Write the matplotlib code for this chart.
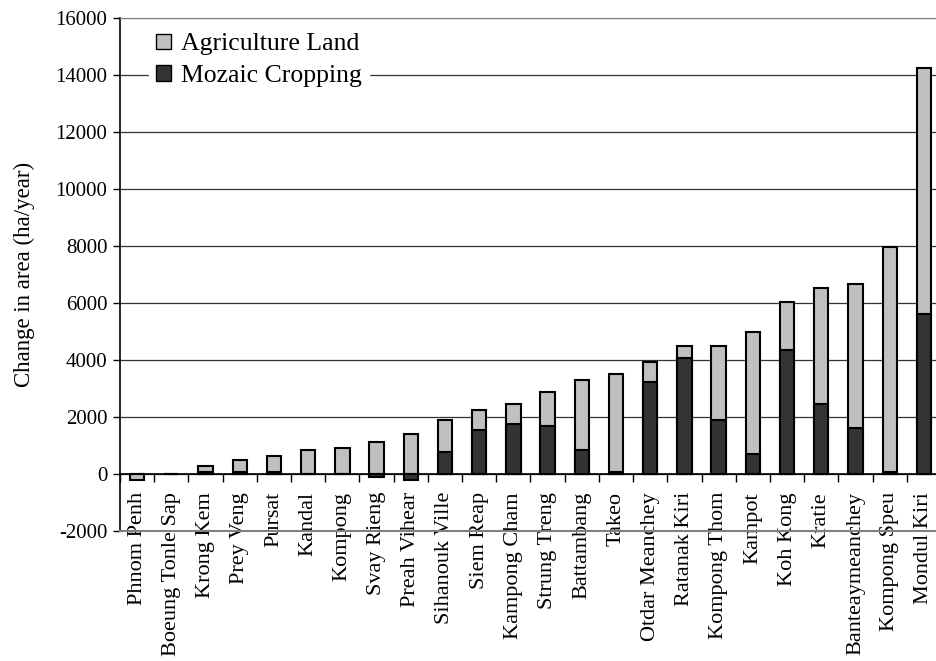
import numpy as np
import matplotlib
matplotlib.use('Agg')
import matplotlib.pyplot as plt
from matplotlib.patches import Patch

plt.rcParams['font.family'] = ['Liberation Serif', 'DejaVu Serif']
plt.rcParams['axes.unicode_minus'] = False

provinces = ['Phnom Penh', 'Boeung Tonle Sap', 'Krong Kem', 'Prey Veng', 'Pursat',
             'Kandal', 'Kompong', 'Svay Rieng', 'Preah Vihear', 'Sihanouk Ville',
             'Siem Reap', 'Kampong Cham', 'Strung Treng', 'Battambang', 'Takeo',
             'Otdar Meanchey', 'Ratanak Kiri', 'Kompong Thom', 'Kampot', 'Koh Kong',
             'Kratie', 'Banteaymeanchey', 'Kompong Speu', 'Mondul Kiri']
agriculture = [-210, 0, 280, 490, 630, 840, 920, 1120, 1410, 1890,
               2250, 2460, 2890, 3300, 3510, 3930, 4490, 4490, 4980, 6050,
               6530, 6680, 7960, 14250]
mozaic = [0, 0, 60, 60, 70, 0, 0, -90, -210, 780,
          1540, 1760, 1680, 840, 80, 3240, 4070, 1890, 700, 4350,
          2460, 1620, 80, 5610]

fig = plt.figure(figsize=(9.36, 6.61), dpi=100)
ax = fig.add_axes([120/936, 1 - 531/661, 821/936, 513/661])

x = np.arange(len(provinces))
ax.bar(x, agriculture, width=0.42, color='#c0c0c0', edgecolor='black', linewidth=1.5,
       zorder=3)
ax.bar(x, mozaic, width=0.42, color='#333333', edgecolor='black', linewidth=1.5,
       zorder=4)

ax.set_xlim(-0.5, len(provinces) - 0.5)
ax.set_ylim(-2000, 16000)
ax.set_yticks(np.arange(-2000, 16001, 2000))
ax.tick_params(axis='y', direction='out', length=5, width=1, labelsize=15, pad=4)
ax.yaxis.grid(True, color='#333333', linewidth=0.9)
ax.set_axisbelow(True)

# category axis crosses at zero
ax.spines['bottom'].set_position(('data', 0))
ax.spines['bottom'].set_linewidth(1.2)
ax.spines['bottom'].set_zorder(5)
ax.spines['right'].set_visible(False)
ax.spines['top'].set_color('#808080')
ax.spines['left'].set_linewidth(1.2)
ax.set_xticks(x)
ax.set_xticklabels(provinces, rotation=90, fontsize=16)
ax.set_xticks(np.arange(-0.5, len(provinces), 1), minor=True)
ax.tick_params(axis='x', which='major', length=0, pad=13)
ax.tick_params(axis='x', which='minor', direction='out', length=6, width=1)
ax.axhline(-2000, color='#808080', linewidth=1.5, zorder=6, clip_on=False)

ax.set_ylabel('Change in area (ha/year)', fontsize=16.5, labelpad=15)

handles = [Patch(facecolor='#c0c0c0', edgecolor='black', label='Agriculture Land'),
           Patch(facecolor='#333333', edgecolor='black', label='Mozaic Cropping')]
leg = ax.legend(handles=handles, loc='upper left', bbox_to_anchor=(0.035, 0.985),
                frameon=True, fontsize=18.5, handlelength=0.55, handleheight=0.55,
                handletextpad=0.4, labelspacing=0.38, borderpad=0.3,
                borderaxespad=0)
leg.get_frame().set_edgecolor('white')
leg.get_frame().set_alpha(1)
leg.get_frame().set_boxstyle('square', pad=0)

fig.savefig('out.png', dpi=100)
